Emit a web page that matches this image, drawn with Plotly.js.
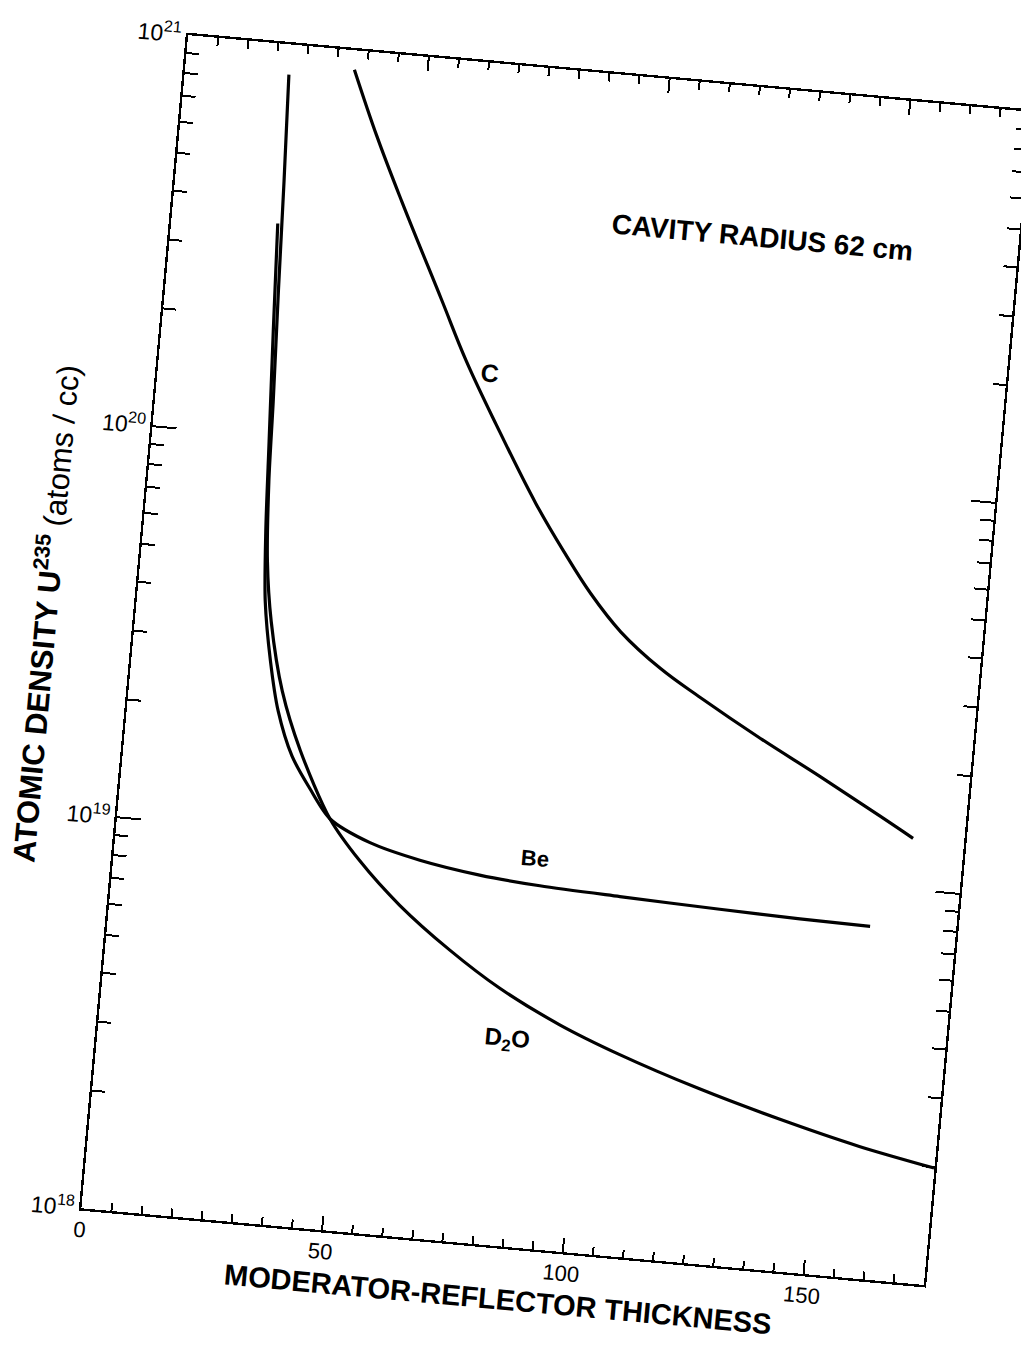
<!DOCTYPE html>
<html>
<head>
<meta charset="utf-8">
<script src="https://cdn.plot.ly/plotly-3.0.1.min.js"></script>
<style>
  html, body { margin: 0; padding: 0; background: #ffffff; overflow: hidden; }
  #plot { position: absolute; left: 0; top: 0; width: 1021px; height: 1347px;
          transform: rotate(5.2deg); transform-origin: 555.5px 660px; }
</style>
</head>
<body>
<div id="plot"></div>
<script>
// Moderator-reflector thickness (x) and U-235 atomic density (atoms/cc)
const cX = [34.9, 40.8, 47.1, 57.1, 63.4, 70.8, 80.4, 87.1, 93.4, 100.3, 109.2, 118.0, 131.1, 144.2, 157.2, 164.4];
const cY = [8.93e20, 6.12e20, 4.25e20, 2.45e20, 1.73e20, 1.21e20, 7.81e19, 5.98e19, 4.75e19, 3.86e19, 3.18e19, 2.74e19, 2.23e19, 1.84e19, 1.51e19, 1.35e19];

const beX = [22.0, 23.1, 24.3, 25.3, 26.5, 28.7, 31.2, 34.9, 39.2, 43.9, 52.6, 63.2, 75.8, 88.4, 105.1, 125.9, 142.6, 157.2];
const beY = [3.49e20, 1.85e20, 9.73e19, 5.75e19, 3.82e19, 2.70e19, 2.03e19, 1.57e19, 1.31e19, 1.11e19, 9.86e18, 9.14e18, 8.65e18, 8.39e18, 8.22e18, 8.05e18, 7.94e18, 7.89e18];

const d2oX = [21.5, 22.5, 23.4, 24.4, 25.0, 26.2, 28.1, 31.7, 36.5, 43.9, 50.8, 59.9, 71.0, 82.0, 95.0, 107.9, 125.1, 142.1, 159.1, 174.9];
const d2oY = [8.38e20, 4.48e20, 2.35e20, 1.23e20, 7.71e19, 4.83e19, 3.41e19, 2.28e19, 1.63e19, 1.11e19, 8.83e18, 6.95e18, 5.50e18, 4.52e18, 3.77e18, 3.27e18, 2.79e18, 2.44e18, 2.17e18, 1.99e18];

const xTickVals = [0, 50, 100, 150];
const xTickText = ['0', '50', '100', '150'];
const yTickVals = [1e18, 1e19, 1e20, 1e21];
const yTickText = ['10<sup>18</sup>', '10<sup>19</sup>', '10<sup>20</sup>', '10<sup>21</sup>'];

const curveNames = ['<b>C</b>', '<b>Be</b>', '<b>D<sub>2</sub>O</b>'];
const labelX = [68.4, 86.9, 84.6];
const labelY = [20.213, 18.993, 18.526];   // log10 positions of the curve labels
const noteText = '<b>CAVITY RADIUS 62 cm</b>';

const yMinor = [];
[18, 19, 20].forEach(function (d) {
  for (let m = 2; m <= 9; m++) yMinor.push(m * Math.pow(10, d));
});

const line = { color: '#000000', width: 3.2, shape: 'spline', smoothing: 0.8 };
const cLine = { color: '#000000', width: 3.2, shape: 'spline', smoothing: 1.1 };
const traces = [
  { x: cX, y: cY, mode: 'lines', line: cLine, name: 'C', hoverinfo: 'x+y' },
  { x: beX, y: beY, mode: 'lines', line: line, name: 'Be', hoverinfo: 'x+y' },
  { x: d2oX, y: d2oY, mode: 'lines', line: line, name: 'D2O', hoverinfo: 'x+y' }
];

const font = 'Liberation Sans, Arial, sans-serif';
const labelSizes = [25, 22, 24];
const annotations = curveNames.map(function (t, i) {
  return { x: labelX[i], y: labelY[i], xref: 'x', yref: 'y', text: t, showarrow: false,
           font: { family: font, size: labelSizes[i], color: '#000' } };
});
annotations.push({ x: 122.0, y: 20.619, xref: 'x', yref: 'y', text: noteText, showarrow: false,
                   font: { family: font, size: 28, color: '#000' } });

const layout = {
  width: 1021, height: 1347,
  margin: { l: 133, r: 42, t: 71, b: 98 },
  paper_bgcolor: '#ffffff', plot_bgcolor: '#ffffff',
  showlegend: false,
  font: { family: font, color: '#000' },
  xaxis: {
    range: [0, 175], tickmode: 'array', tickvals: xTickVals, ticktext: xTickText,
    ticks: 'inside', ticklen: 14, tickwidth: 2, tickcolor: '#000',
    showline: true, linecolor: '#000', linewidth: 2.4, mirror: 'allticks',
    showgrid: false, zeroline: false,
    tickfont: { family: font, size: 22 },
    minor: { dtick: 6.25, tick0: 0, ticks: 'inside', ticklen: 8, tickwidth: 2, tickcolor: '#000', showgrid: false },
    title: { text: '<b>MODERATOR-REFLECTOR THICKNESS</b>', font: { family: font, size: 29 }, standoff: 10 }
  },
  yaxis: {
    type: 'log', range: [18, 21], tickmode: 'array', tickvals: yTickVals, ticktext: yTickText,
    ticks: 'inside', ticklen: 24, tickwidth: 2, tickcolor: '#000',
    showline: true, linecolor: '#000', linewidth: 2.4, mirror: 'allticks',
    showgrid: false, zeroline: false,
    tickfont: { family: font, size: 23 },
    minor: { tickvals: yMinor, ticks: 'inside', ticklen: 13, tickwidth: 2, tickcolor: '#000', showgrid: false },
    title: { text: '<b>ATOMIC DENSITY U<sup>235</sup></b> (atoms / cc)', font: { family: font, size: 31 }, standoff: 18 }
  },
  annotations: annotations
};

Plotly.newPlot('plot', traces, layout, { staticPlot: true });
</script>
</body>
</html>
